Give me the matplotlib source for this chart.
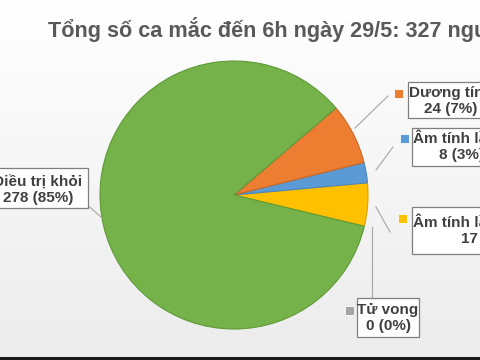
import numpy as np
import matplotlib
matplotlib.use("Agg")
import matplotlib.pyplot as plt
from matplotlib.patches import Rectangle

# data (counterclockwise from the bottom-right)
labels = ["Tử vong", "Âm tính lần 2 trở lên", "Âm tính lần 1", "Dương tính", "Điều trị khỏi"]
values = [0, 17, 8, 24, 278]
pcts = [0, 5, 3, 7, 85]
colors = ["#A5A5A5", "#FFC000", "#5B9BD5", "#ED7D31", "#76B24A"]
edges = ["#8a8a8a", "#d9a300", "#4a86bd", "#c96a28", "#5e9a38"]
title = "Tổng số ca mắc đến 6h ngày 29/5: 327 người"

plt.rcParams["font.family"] = ["Liberation Sans", "DejaVu Sans"]

W, H = 480, 360
fig = plt.figure(figsize=(4.8, 3.6), dpi=100)
ax = fig.add_axes([0, 0, 1, 1])

# background gradient
grad = np.linspace(1.0, 0.925, 256).reshape(-1, 1)
ax.imshow(np.dstack([grad, grad, grad]), extent=[0, W, 0, H], aspect="auto", zorder=0)

def py(y):
    # pixel row -> data y
    return H - y

wedges, _ = ax.pie(values, colors=colors, startangle=-13.5, counterclock=True,
                   radius=134, center=(234, py(195)),
                   explode=[0, 0.025, 0.035, 0.015, 0],
                   wedgeprops=dict(linewidth=0.8), frame=True)
for w, ec in zip(wedges, edges):
    w.set_edgecolor(ec)
    w.set_zorder(2)
ax.set_xlim(0, W)
ax.set_ylim(0, H)
ax.set_aspect("auto")
ax.axis("off")

ax.text(48, py(29), title, fontsize=15.6, fontweight="bold", color="#595959",
        ha="left", va="center", zorder=5)

# label boxes: (box x0, y0, x1, y1), text anchor, ha, marker pos, leader line
layout = {
    "Dương tính": ((408, 82, 520, 118), (409, 101), "left", (398, 93), [(355, 128), (388, 96)]),
    "Âm tính lần 1": ((412, 128, 530, 166), (413, 147), "left", (404, 138), [(376, 170), (393, 147)]),
    "Âm tính lần 2 trở lên": ((412, 207, 570, 254), (413, 231), "left", (402, 218), [(376, 207), (390, 232)]),
    "Tử vong": ((357, 298, 419, 337), (388, 318), "center", (349, 310), [(372, 227), (372, 298)]),
    "Điều trị khỏi": ((-3, 168, 88, 208), (38, 190), "center", (-12, 180), [(68, 188), (101, 217)]),
}

for lab, val, pct, col in zip(labels, values, pcts, colors):
    box, tpos, ha, mpos, line = layout[lab]
    x0, y0, x1, y1 = box
    ax.add_patch(Rectangle((x0, py(y1)), x1 - x0, y1 - y0, facecolor="white",
                           edgecolor="#7f7f7f", linewidth=0.9, zorder=4))
    ax.text(tpos[0], py(tpos[1]), f"{lab}\n{val} ({pct}%)", fontsize=11, fontweight="bold",
            color="#404040", ha=ha, va="center", multialignment="center",
            linespacing=1.15, zorder=5)
    ax.add_patch(Rectangle((mpos[0] - 4.5, py(mpos[1]) - 4.5), 9, 9, facecolor=col,
                           edgecolor="white", linewidth=0.6, zorder=4))
    ax.plot([line[0][0], line[1][0]], [py(line[0][1]), py(line[1][1])],
            color="#a6a6a6", linewidth=0.8, zorder=3)

# dark strip at the bottom edge
ax.add_patch(Rectangle((0, 0), W, 3, facecolor="#1a1a1a", edgecolor="none", zorder=6))

fig.savefig("out.png", dpi=100)
